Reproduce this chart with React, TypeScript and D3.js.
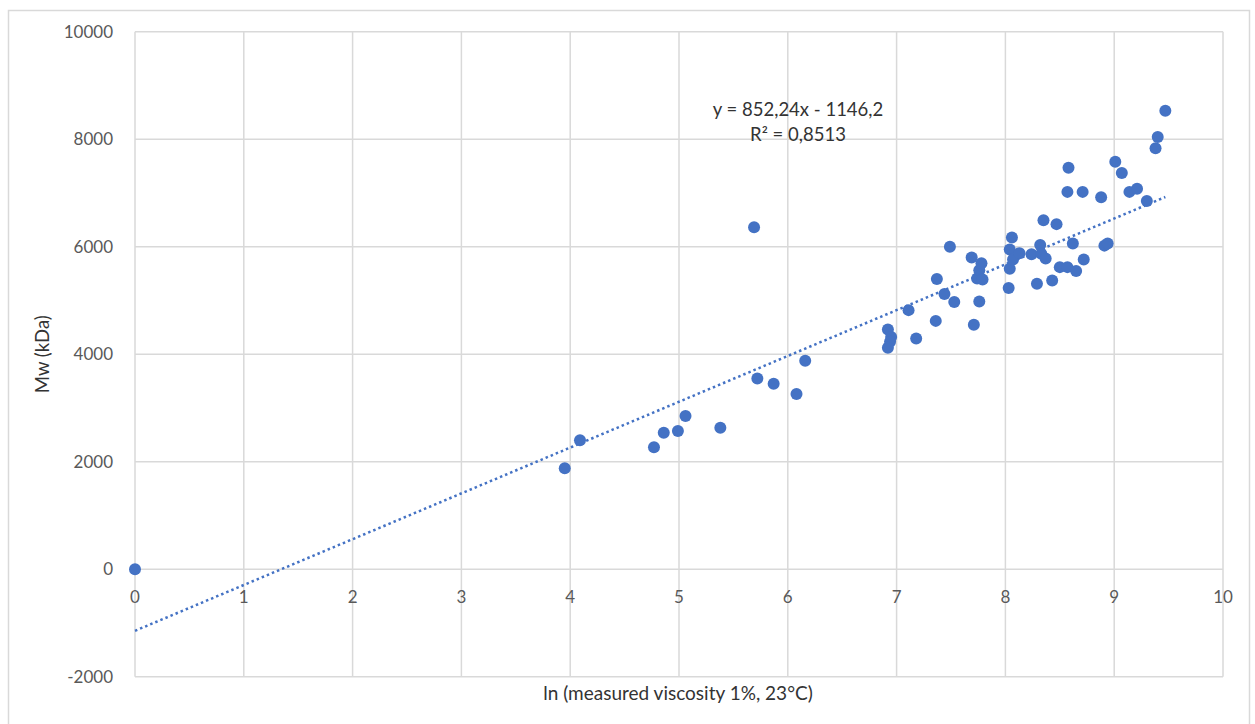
import * as d3 from "d3";

const W = 1255;
const H = 724;

const lnViscosity = [
  0, 3.95, 4.09, 4.77, 4.86, 4.99, 5.06, 5.38, 5.69, 5.72, 5.87, 6.08, 6.16,
  6.92, 6.95, 6.94, 6.92, 7.11, 7.18, 7.36, 7.37, 7.44, 7.49, 7.53, 7.69, 7.71,
  7.74, 7.76, 7.76, 7.78, 7.79, 8.03, 8.04, 8.04, 8.06, 8.07, 8.13, 8.24, 8.29,
  8.32, 8.33, 8.35, 8.37, 8.43, 8.47, 8.5, 8.57, 8.57, 8.58, 8.62, 8.65, 8.71,
  8.72, 8.88, 8.91, 8.94, 9.01, 9.07, 9.14, 9.21, 9.3, 9.38, 9.4, 9.47,
];
const mwKDa = [
  0, 1880, 2400, 2270, 2540, 2570, 2850, 2630, 6360, 3550, 3450, 3260, 3880,
  4460, 4320, 4230, 4120, 4820, 4290, 4620, 5400, 5120, 6000, 4970, 5800, 4550,
  5410, 5560, 4980, 5690, 5390, 5230, 5950, 5590, 6170, 5760, 5880, 5860, 5310,
  6030, 5870, 6490, 5780, 5370, 6420, 5620, 5620, 7020, 7470, 6060, 5550, 7020,
  5760, 6920, 6020, 6060, 7580, 7370, 7020, 7080, 6850, 7830, 8040, 8530,
];

const xTicks = [0, 1, 2, 3, 4, 5, 6, 7, 8, 9, 10];
const yTicks = [-2000, 0, 2000, 4000, 6000, 8000, 10000];

const slope = 852.24;
const intercept = -1146.2;
const equationLines = ["y = 852,24x - 1146,2", "R² = 0,8513"];

const FONT = "Lato, 'Open Sans', sans-serif";
const BLUE = "#4472C4";
const GRID = "#d9d9d9";
const LABEL = "#595959";
const TITLE = "#333333";

export default function App() {
  const x = d3.scaleLinear().domain([0, 10]).range([135, 1223]);
  const y = d3.scaleLinear().domain([-2000, 10000]).range([676.7, 31.7]);

  const points = lnViscosity.map((v, i) => ({ v, mw: mwKDa[i] }));
  const xMax = d3.max(lnViscosity) ?? 10;

  const trend = d3
    .line<number>()
    .x((d) => x(d))
    .y((d) => y(slope * d + intercept))([0, xMax]);

  return (
    <svg
      width={W}
      height={H}
      style={{ position: "absolute", left: 0, top: 0, background: "#fff" }}
      fontFamily={FONT}
    >
      <rect x={8.5} y={10.5} width={1241} height={730} fill="#fff" stroke={GRID} strokeWidth={1.5} />

      {/* grid */}
      {xTicks.map((t) => (
        <line key={"gx" + t} x1={x(t)} x2={x(t)} y1={y(10000)} y2={y(-2000)} stroke={GRID} strokeWidth={1.5} />
      ))}
      {yTicks.map((t) => (
        <line key={"gy" + t} x1={x(0)} x2={x(10)} y1={y(t)} y2={y(t)} stroke={GRID} strokeWidth={1.5} />
      ))}

      {/* tick labels */}
      {yTicks.map((t) => (
        <text key={"ty" + t} x={113} y={y(t)} dy="0.35em" textAnchor="end" fontSize={17} fill={LABEL}>
          {t}
        </text>
      ))}
      {xTicks.map((t) => (
        <text key={"tx" + t} x={x(t)} y={y(0) + 28} dy="0.35em" textAnchor="middle" fontSize={17} fill={LABEL}>
          {t}
        </text>
      ))}

      {/* trendline */}
      <path d={trend ?? ""} fill="none" stroke={BLUE} strokeWidth={2.5} strokeDasharray="2.5 3" />

      {/* points */}
      {points.map((p, i) => (
        <circle key={i} cx={x(p.v)} cy={y(p.mw)} r={6} fill={BLUE} />
      ))}

      {/* equation */}
      {equationLines.map((s, i) => (
        <text key={s} x={798} y={110 + i * 25} dy="0.35em" textAnchor="middle" fontSize={18.5} fill={TITLE}>
          {s}
        </text>
      ))}

      {/* axis titles */}
      <text x={678} y={693} dy="0.35em" textAnchor="middle" fontSize={19} fill={TITLE}>
        ln (measured viscosity 1%, 23°C)
      </text>
      <text
        transform={`translate(43, ${(y(10000) + y(-2000)) / 2}) rotate(-90)`}
        dy="0.35em"
        textAnchor="middle"
        fontSize={18.5}
        fill={TITLE}
      >
        Mw (kDa)
      </text>
    </svg>
  );
}
